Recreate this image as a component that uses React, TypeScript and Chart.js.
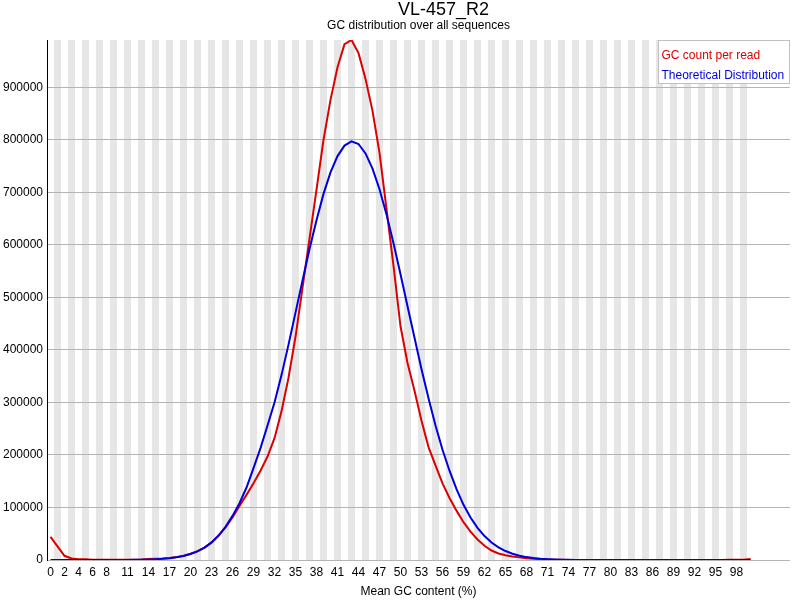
import { useEffect, useRef } from "react";
import { Chart, registerables } from "chart.js";

Chart.register(...registerables);

const chartTitle = "VL-457_R2";
const chartSubtitle = "GC distribution over all sequences";
const xAxisTitle = "Mean GC content (%)";

// one bin per GC percent, 0..100
const gcBins: number[] = Array.from({ length: 101 }, (_, i) => i);

// bin 0 to bin 100
const gcCountPerRead: number[] = [
  44000, 26000, 8000, 3000, 1500, 1200, 600, 400, 300, 300,
  300, 300, 400, 800, 2000, 2400, 2800, 3800, 5500, 8000,
  12000, 17000, 23500, 33000, 46000, 62000, 81000, 103000, 124000, 146000,
  170000, 197000, 232000, 283000, 347000, 425000, 518000, 612000, 705000, 800000,
  876000, 938000, 982000, 990000, 965000, 916000, 855000, 775000, 668000, 560000,
  445000, 375000, 322000, 265000, 215000, 180000, 146000, 118000, 94000, 72000,
  54000, 39000, 27000, 18000, 12500, 9000, 6500, 5000, 3500, 2500,
  1500, 800, 300, 300, 200, 200, 200, 200, 200, 200,
  200, 200, 200, 200, 200, 200, 200, 200, 200, 200,
  200, 200, 200, 200, 200, 200, 200, 300, 300, 400,
  2000,
];

const theoreticalDistribution: number[] = [
  0, 0, 0, 0, 0, 0, 10, 20, 40, 70,
  120, 200, 340, 560, 900, 1400, 2200, 3400, 5100, 7600,
  11500, 16500, 23500, 33500, 46500, 63000, 84000, 108000, 138000, 175000,
  213000, 256000, 300000, 352000, 410000, 471000, 532000, 592000, 647000, 697000,
  738000, 769000, 789000, 797000, 792000, 774000, 745000, 706000, 658000, 603000,
  544000, 483000, 423000, 363000, 308000, 256000, 210000, 170000, 135000, 105000,
  80800, 61100, 45500, 33400, 24100, 17100, 11900, 8200, 5500, 3700,
  2400, 1600, 990, 615, 380, 230, 135, 80, 45, 25,
  13, 0, 0, 0, 0, 0, 0, 0, 0, 0,
  0, 0, 0, 0, 0, 0, 0, 0, 0, 0,
  0,
];

const xTickLabels: number[] = [
  0, 2, 4, 6, 8, 11, 14, 17, 20, 23, 26, 29, 32, 35, 38, 41, 44, 47, 50, 53,
  56, 59, 62, 65, 68, 71, 74, 77, 80, 83, 86, 89, 92, 95, 98,
];
const yTickLabels: number[] = [
  0, 100000, 200000, 300000, 400000, 500000, 600000, 700000, 800000, 900000,
];
const yMax = 990000;

const redLine = "rgb(220, 0, 0)";
const blueLine = "rgb(0, 0, 220)";
const fontFamily = "'Liberation Sans', Arial, sans-serif";

// alternating grey bands behind the odd bins
const stripePlugin = {
  id: "gcStripes",
  beforeDraw(chart: Chart) {
    const { ctx, chartArea, scales } = chart;
    const x = scales.x;
    ctx.save();
    ctx.fillStyle = "#e6e6e6";
    for (const bin of gcBins) {
      if (bin % 2 === 0) continue;
      const left = x.getPixelForValue(bin - 0.5);
      const right = x.getPixelForValue(bin + 0.5);
      ctx.fillRect(left, chartArea.top, right - left, chartArea.bottom - chartArea.top);
    }
    ctx.restore();
  },
};

// big title and the boxed legend in the top right corner
const textPlugin = {
  id: "gcTexts",
  afterDraw(chart: Chart) {
    const { ctx, chartArea } = chart;
    ctx.save();
    ctx.textAlign = "left";
    ctx.textBaseline = "alphabetic";
    ctx.fillStyle = "#000";
    ctx.font = `18px ${fontFamily}`;
    ctx.fillText(chartTitle, 398, 15);

    ctx.font = `12px ${fontFamily}`;
    const entries = chart.data.datasets.map((ds) => ({
      label: String(ds.label),
      color: String(ds.borderColor),
      order: (ds as any).legendIndex as number,
    }));
    entries.sort((a, b) => a.order - b.order);
    const textW = Math.max(...entries.map((e) => ctx.measureText(e.label).width));
    const boxW = Math.round(textW + 9);
    const boxH = 43;
    const left = chartArea.right - boxW;
    const top = chartArea.top;
    ctx.fillStyle = "#fff";
    ctx.fillRect(left, top, boxW, boxH);
    ctx.strokeStyle = "#c0c0c0";
    ctx.lineWidth = 1;
    ctx.strokeRect(left + 0.5, top + 0.5, boxW - 1, boxH);
    entries.forEach((e, i) => {
      ctx.fillStyle = e.color;
      ctx.fillText(e.label, left + 3.5, top + 19 + i * 20);
    });
    ctx.restore();
  },
};

const GcChart: React.FC = () => {
  const chartRef = useRef<HTMLCanvasElement | null>(null);

  useEffect(() => {
    document.body.style.margin = "0";

    const myChart = new Chart(chartRef.current!, {
      type: "line",
      data: {
        labels: gcBins,
        datasets: [
          {
            label: "GC count per read",
            data: gcCountPerRead,
            borderColor: redLine,
            borderWidth: 2,
            pointRadius: 0,
            fill: false,
            order: 1,
            legendIndex: 0,
          } as any,
          {
            label: "Theoretical Distribution",
            data: theoreticalDistribution,
            borderColor: blueLine,
            borderWidth: 2,
            pointRadius: 0,
            fill: false,
            order: 0,
            legendIndex: 1,
          } as any,
        ],
      },
      options: {
        animation: false,
        responsive: false,
        layout: { padding: { left: 0, right: 10, top: 0, bottom: 0 } },
        plugins: {
          legend: { display: false },
          tooltip: { enabled: false },
          title: { display: false },
          subtitle: {
            display: true,
            text: chartSubtitle,
            fullSize: false,
            color: "#000",
            font: { family: fontFamily, size: 12, weight: "normal" },
            padding: { top: 18, bottom: 7.6 },
          },
        },
        scales: {
          x: {
            type: "linear",
            min: -0.5,
            max: 105.64,
            grid: { display: false },
            border: { display: false },
            afterBuildTicks: (scale: any) => {
              scale.ticks = xTickLabels.map((v) => ({ value: v }));
            },
            afterFit: (scale: any) => {
              scale.height = 40;
            },
            ticks: {
              autoSkip: false,
              maxRotation: 0,
              padding: -3,
              color: "#000",
              font: { family: fontFamily, size: 12 },
              callback: (v: any) => String(v),
            },
            title: {
              display: true,
              text: xAxisTitle,
              color: "#000",
              font: { family: fontFamily, size: 12 },
              padding: { top: 0, bottom: 1 },
            },
          },
          y: {
            min: 0,
            max: yMax,
            afterBuildTicks: (scale: any) => {
              scale.ticks = yTickLabels.map((v) => ({ value: v }));
            },
            afterFit: (scale: any) => {
              scale.width = 47;
            },
            grid: { color: "#b4b4b4", lineWidth: 1, drawTicks: false },
            border: { display: true, color: "#000", width: 1 },
            ticks: {
              padding: 4,
              color: "#000",
              font: { family: fontFamily, size: 12 },
              callback: (v: any) => String(v),
            },
          },
        },
      },
      plugins: [stripePlugin, textPlugin],
    } as any);

    return () => {
      myChart.destroy();
    };
  }, []);

  return (
    <div style={{ width: 800, height: 600 }}>
      <canvas ref={chartRef} width={800} height={600} />
    </div>
  );
};

export default function App() {
  return <GcChart />;
}
